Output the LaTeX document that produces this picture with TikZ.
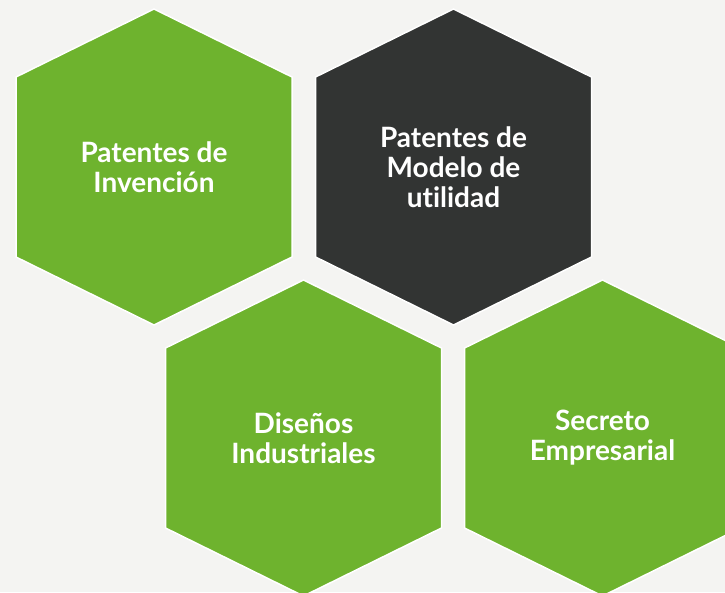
\documentclass[tikz,border=0pt]{standalone}
\usepackage{fontspec}
\setmainfont{Lato}[Ligatures=NoCommon]
\usetikzlibrary{shapes,backgrounds}
\definecolor{hexgreen}{HTML}{6EB32E}
\definecolor{hexdark}{HTML}{323433}
\definecolor{bggray}{HTML}{F4F4F2}

\begin{document}
\begin{tikzpicture}[x=1pt, y=-1pt,
  hexlabel/.style={text=white, align=center, font=\bfseries\fontsize{28}{30}\selectfont}]
\useasboundingbox (0,0) rectangle (725,592);
\clip (0,0) rectangle (725,592);
\fill[bggray] (0,0) rectangle (725,592); % background
\foreach \cx/\cy/\col in {154/167/hexgreen, 453.5/167/hexdark, 303.5/438/hexgreen, 602.5/438/hexgreen} % edit here for the hexagons
\draw[shift={(\cx,\cy)}, fill=\col, draw=white, line width=1.5pt] (0,-158) -- (138,-90) -- (138,90) -- (0,158) -- (-138,90) -- (-138,-90) -- cycle;
\node[hexlabel] (invencion) at (154,167) {Patentes de\\Invención};
\node[hexlabel] (modelo) at (453.5,167) {Patentes de\\Modelo de\\utilidad};
\node[hexlabel] (disenos) at (303.5,438) {Diseños\\Industriales};
\node[hexlabel] (secreto) at (602.5,438) {Secreto\\Empresarial};
\end{tikzpicture}
\end{document}
